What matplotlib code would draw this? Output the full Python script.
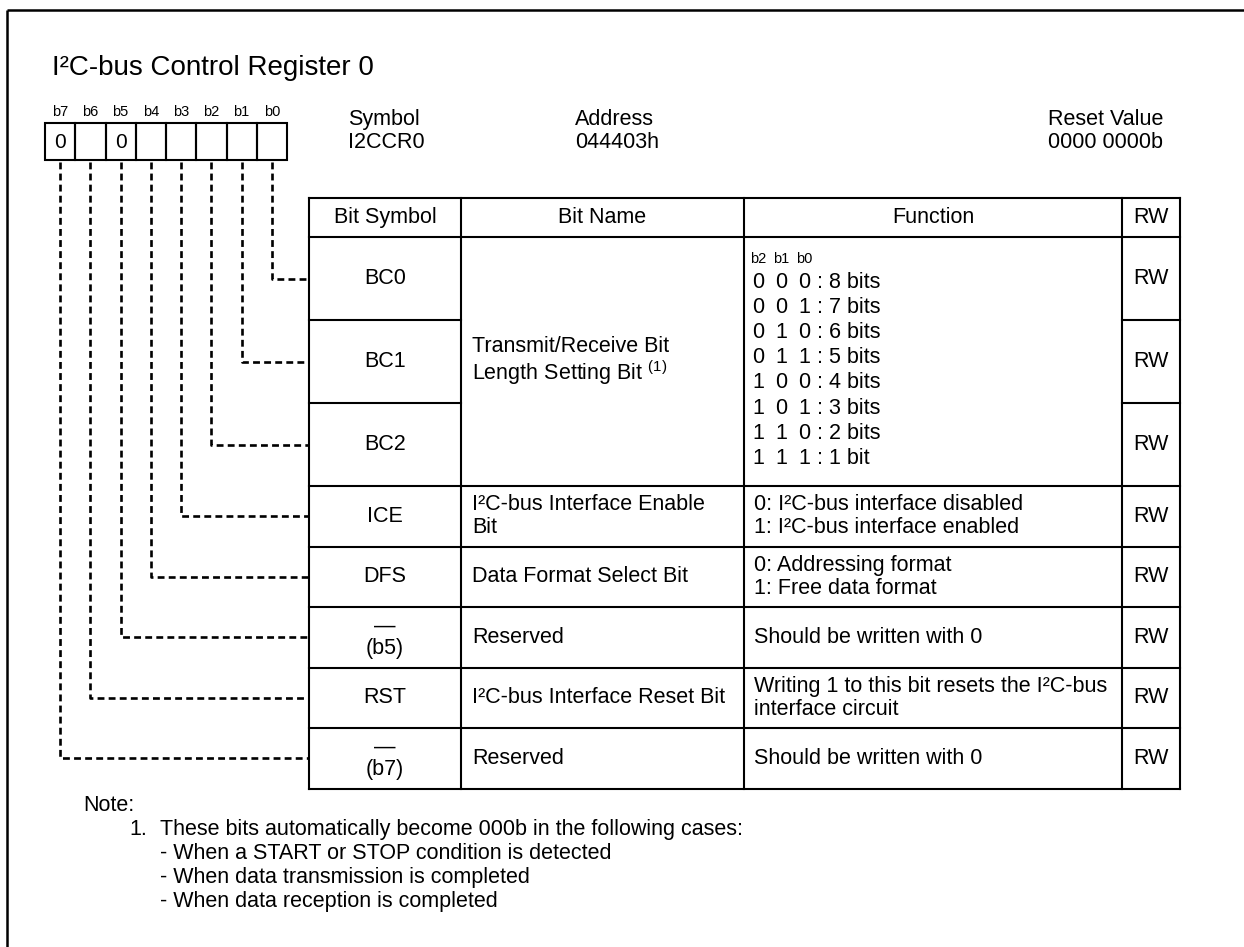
#!/usr/bin/env python3
"""
I2C-bus Control Register 0 (I2CCR0) - bit layout diagram redrawn with matplotlib.
"""
import matplotlib
matplotlib.use("Agg")
import matplotlib.pyplot as plt

plt.rcParams.update({
    "font.family": ["Liberation Sans", "DejaVu Sans"],
    "mathtext.fontset": "custom",
    "mathtext.rm": "Liberation Sans",
    "mathtext.it": "Liberation Sans",
    "mathtext.bf": "Liberation Sans",
})

# --- register data ---
TITLE = "I²C-bus Control Register 0"
REG_SYMBOL = "I2CCR0"
REG_ADDRESS = "044403h"
REG_RESET = "0000 0000b"

bit_labels = ["b7", "b6", "b5", "b4", "b3", "b2", "b1", "b0"]
bit_values = ["0", "", "0", "", "", "", "", ""]

header = ["Bit Symbol", "Bit Name", "Function", "RW"]
row_bits = [0, 1, 2, 3, 4, 5, 6, 7]           # bit number described by each table row
row_symbols = ["BC0", "BC1", "BC2", "ICE", "DFS", "—\n(b5)", "RST", "—\n(b7)"]
row_rw = ["RW"] * 8

bc_name = "Transmit/Receive Bit\nLength Setting Bit $^{\\rm (1)}$"
bc_code_head = ["b2", "b1", "b0"]
bc_codes = ["000", "001", "010", "011", "100", "101", "110", "111"]
bc_lengths = ["8 bits", "7 bits", "6 bits", "5 bits", "4 bits", "3 bits", "2 bits", "1 bit"]

other_names = ["I²C-bus Interface Enable\nBit", "Data Format Select Bit", "Reserved",
               "I²C-bus Interface Reset Bit", "Reserved"]
other_funcs = ["0: I²C-bus interface disabled\n1: I²C-bus interface enabled",
               "0: Addressing format\n1: Free data format",
               "Should be written with 0",
               "Writing 1 to this bit resets the I²C-bus\ninterface circuit",
               "Should be written with 0"]

note_head = "Note:"
note_num = "1."
note_lines = ["These bits automatically become 000b in the following cases:",
              "- When a START or STOP condition is detected",
              "- When data transmission is completed",
              "- When data reception is completed"]

# --- layout (pixel coordinates, y downwards) ---
W, H = 1244, 947
fig = plt.figure(figsize=(W / 100, H / 100), dpi=100)
ax = fig.add_axes([0, 0, 1, 1])
ax.set_xlim(0, W); ax.set_ylim(H, 0); ax.axis("off")

FS = 15.5
LW = 1.5
DASH = (0, (2.6, 1.6))
ls = 1.1

# outer frame (top + left only)
ax.plot([7, W], [10, 10], color="black", lw=1.8, solid_capstyle="butt")
ax.plot([7, 7], [10, H], color="black", lw=1.8, solid_capstyle="butt")

ax.text(52, 75, TITLE, fontsize=20, va="baseline", ha="left")

# bit boxes
box_l, box_w, box_t, box_b = 45, 30.25, 123, 160
for i, (lab, val) in enumerate(zip(bit_labels, bit_values)):
    x0 = box_l + i * box_w
    ax.add_patch(plt.Rectangle((x0, box_t), box_w, box_b - box_t, fill=False, lw=LW, ec="black"))
    ax.text(x0 + box_w / 2, 112, lab, fontsize=10.5, ha="center", va="center")
    if val:
        ax.text(x0 + box_w / 2, 142, val, fontsize=15, ha="center", va="center")

# symbol / address / reset
ax.text(348, 131, "Symbol\n" + REG_SYMBOL, fontsize=FS, ha="left", va="center", linespacing=ls)
ax.text(575, 131, "Address\n" + REG_ADDRESS, fontsize=FS, ha="left", va="center", linespacing=ls)
ax.text(1163, 131, "Reset Value\n" + REG_RESET, fontsize=FS, ha="right", va="center",
        linespacing=ls, multialignment="right")

# table grid
cols = [309, 461, 744, 1122, 1180]
row_h = [83, 83, 83, 60.5, 60.5, 60.5, 60.5, 60.5]
head_t, head_b = 198, 237
ys = [head_b]
for h in row_h:
    ys.append(ys[-1] + h)

ax.plot([cols[0], cols[-1]], [head_t, head_t], color="black", lw=LW)
for y in ys:
    if y == ys[1] or y == ys[2]:
        # inside the merged BC0-BC2 block only symbol and RW columns are split
        ax.plot([cols[0], cols[1]], [y, y], color="black", lw=LW)
        ax.plot([cols[3], cols[4]], [y, y], color="black", lw=LW)
    else:
        ax.plot([cols[0], cols[-1]], [y, y], color="black", lw=LW)
for x in cols:
    ax.plot([x, x], [head_t, ys[-1]], color="black", lw=LW)

for j, txt in enumerate(header):
    ax.text((cols[j] + cols[j + 1]) / 2, (head_t + head_b) / 2, txt, fontsize=FS,
            ha="center", va="center")

# rows: symbol + RW columns, dashed leader lines
for r, (sym, rw, bit) in enumerate(zip(row_symbols, row_rw, row_bits)):
    yc = (ys[r] + ys[r + 1]) / 2
    ax.text((cols[0] + cols[1]) / 2, yc, sym, fontsize=FS, ha="center", va="center",
            linespacing=1.12)
    ax.text((cols[3] + cols[4]) / 2, yc, rw, fontsize=FS, ha="center", va="center")
    xb = box_l + (7 - bit) * box_w + box_w / 2
    ax.plot([xb, xb, cols[0]], [box_b + 2, yc, yc], color="black", lw=1.9, linestyle=DASH)

# BC0-BC2 merged cells
ax.text(cols[1] + 11, (ys[0] + ys[3]) / 2, bc_name, fontsize=FS, ha="left", va="center",
        linespacing=ls)
code_x = [758, 781, 804]
for cx, lab in zip(code_x, bc_code_head):
    ax.text(cx, 259, lab, fontsize=10.5, ha="center", va="center")
for k, (code, length) in enumerate(zip(bc_codes, bc_lengths)):
    y = 282 + k * 25.2
    for cx, ch in zip(code_x, code):
        ax.text(cx, y, ch, fontsize=FS, ha="center", va="center")
    ax.text(817, y, ": " + length, fontsize=FS, ha="left", va="center")

# remaining rows
for r, (nm, fn) in enumerate(zip(other_names, other_funcs), start=3):
    yc = (ys[r] + ys[r + 1]) / 2
    ax.text(cols[1] + 11, yc, nm, fontsize=FS, ha="left", va="center", linespacing=ls)
    ax.text(cols[2] + 10, yc, fn, fontsize=FS, ha="left", va="center", linespacing=ls)

# notes
ax.text(83, 805, note_head, fontsize=FS, ha="left", va="center")
ax.text(129, 829, note_num, fontsize=FS, ha="left", va="center")
for k, line in enumerate(note_lines):
    ax.text(160, 829 + k * 24.2, line, fontsize=FS, ha="left", va="center")

fig.savefig("out.png", dpi=100, facecolor="white")
